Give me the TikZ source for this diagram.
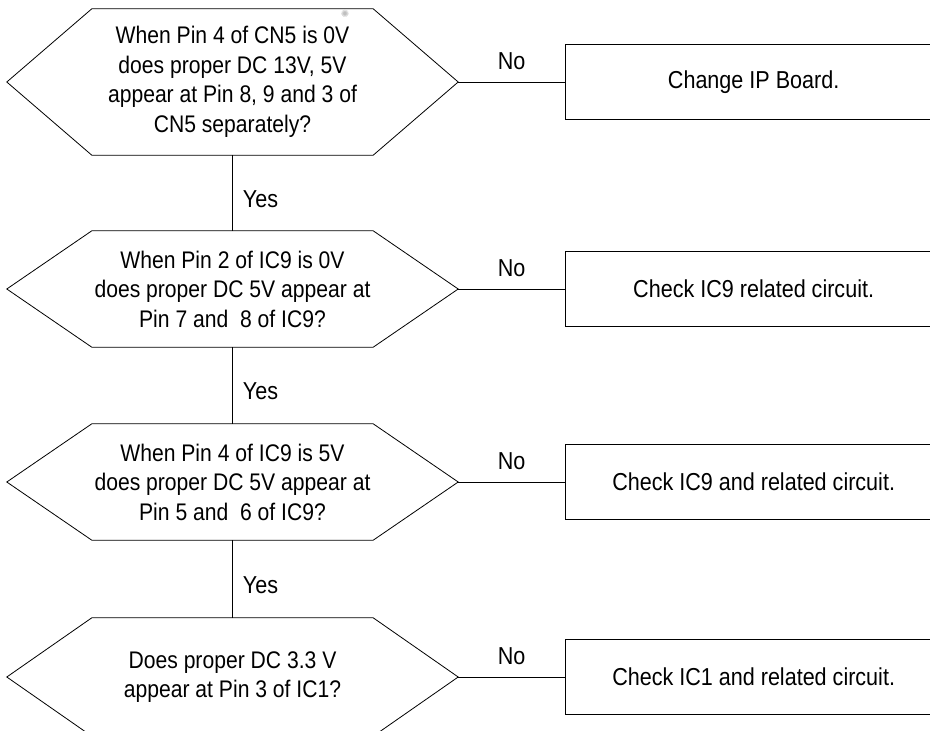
\documentclass[tikz,border=0pt]{standalone}
\usepackage{fontspec}
\setmainfont[FakeStretch=0.88]{Liberation Sans}
\newfontfamily\symfont{DejaVu Sans}
\usepackage{tikz}
\newcommand{\qwidth}{281pt}
\newcommand{\tipwidth}{85}
\newcommand{\boxwidth}{376pt}
\newcommand{\boxheight}{75pt}
\usetikzlibrary{calc,positioning}
% draws the six-sided frame round a question node
\newcommand{\hexframe}[1]{%
  \coordinate (#1-r) at ($(#1.east)+(\tipwidth,0)$);
  \coordinate (#1-l) at ($(#1.west)-(\tipwidth,0)$);
  \draw[frame] (#1.north west) -- (#1.north east) -- (#1-r) -- (#1.south east)
    -- (#1.south west) -- (#1-l) -- cycle;}
\tikzset{
  x=1pt,y=-1pt,
  font=\fontsize{24.5}{29}\selectfont,
  frame/.style={draw,line width=0.8pt,line join=miter},
  question/.style={shape=rectangle,minimum width=\qwidth,inner sep=0,align=center,font=\fontsize{24}{29.5}\selectfont},
  action/.style={draw,line width=0.9pt,shape=rectangle,minimum width=\boxwidth,minimum height=\boxheight,inner sep=0},
  line/.style={draw,line width=0.8pt},
  nolabel/.style={midway,above=12pt,inner sep=0},
  yeslabel/.style={midway,right,inner sep=0,xshift=10pt,yshift=-6pt},
}

\begin{document}
\begin{tikzpicture}
  \path[use as bounding box,clip] (0,0) rectangle (930,731);
  % questions
  \node (q1) [question,minimum height=146pt] at (232.5,82) {When Pin 4 of CN5 is 0V\\does proper DC 13V, 5V\\appear at Pin 8, 9 and 3 of\\CN5 separately?};
  \node (q2) [question,minimum height=116pt] at (232.5,289) {When Pin 2 of IC9 is 0V\\does proper DC 5V appear at\\Pin 7 and~ 8 of IC9?};
  \node (q3) [question,minimum height=116pt] at (232.5,482) {When Pin 4 of IC9 is 5V\\does proper DC 5V appear at\\Pin 5 and~ 6 of IC9?};
  \node (q4) [question,minimum height=118pt] at (232.5,677) {Does proper DC 3.3 V\\appear at Pin 3 of IC1?};
  \hexframe{q1}
  \hexframe{q2}
  \hexframe{q3}
  \hexframe{q4}
  \node (mark) [font=\fontsize{10}{10}\symfont,text=gray!50,inner sep=0] at (345,14) {✺};
  % actions
  \node (a1) [action,right=192pt of q1] {Change IP Board.};
  \node (a2) [action,right=192pt of q2] {Check IC9 related circuit.};
  \node (a3) [action,right=192pt of q3] {Check IC9 and related circuit.};
  \node (a4) [action,right=192pt of q4] {Check IC1 and related circuit.};
  % connectors
  \path [line] (q1-r) -- (a1) node[nolabel]{No};
  \path [line] (q2-r) -- (a2) node[nolabel]{No};
  \path [line] (q3-r) -- (a3) node[nolabel]{No};
  \path [line] (q4-r) -- (a4) node[nolabel]{No};
  \path [line] (q1) -- (q2) node[yeslabel]{Yes};
  \path [line] (q2) -- (q3) node[yeslabel]{Yes};
  \path [line] (q3) -- (q4) node[yeslabel]{Yes};
\end{tikzpicture}
\end{document}
